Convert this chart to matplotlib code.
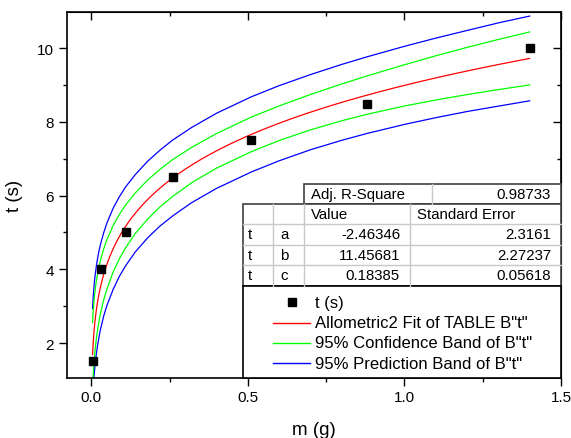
import numpy as np
import matplotlib
matplotlib.use('Agg')
import matplotlib.pyplot as plt
from matplotlib.patches import Rectangle
from matplotlib.lines import Line2D
from matplotlib.ticker import MultipleLocator

plt.rcParams['font.family'] = ['Liberation Sans', 'DejaVu Sans']

# measured points
mass = [0.004, 0.03, 0.11, 0.26, 0.51, 0.88, 1.40]
time_s = [1.5, 4.0, 5.0, 6.5, 7.5, 8.5, 10.0]

# Allometric2 fit y = a + b*x^c
param_names = ['a', 'b', 'c']
param_values = [-2.46346, 11.45681, 0.18385]
param_errors = [2.3161, 2.27237, 0.05618]
adj_r2 = 0.98733

# half widths of the 95% bands around the fit
band_x = [0.004, 0.006, 0.008, 0.01, 0.013, 0.016, 0.02, 0.025, 0.03, 0.04,
          0.05, 0.07, 0.09, 0.11, 0.14, 0.18, 0.22, 0.26, 0.32, 0.40,
          0.51, 0.60, 0.70, 0.80, 0.88, 1.00, 1.10, 1.20, 1.30, 1.40]
conf_hw = [0.87, 0.85, 0.83, 0.82, 0.80, 0.78, 0.76, 0.74, 0.72, 0.69,
           0.67, 0.63, 0.60, 0.58, 0.55, 0.53, 0.51, 0.50, 0.48, 0.47,
           0.47, 0.47, 0.48, 0.50, 0.52, 0.56, 0.60, 0.64, 0.68, 0.72]
pred_hw = [1.25, 1.24, 1.22, 1.22, 1.20, 1.19, 1.18, 1.17, 1.15, 1.13,
           1.12, 1.10, 1.08, 1.07, 1.05, 1.04, 1.03, 1.03, 1.02, 1.02,
           1.02, 1.02, 1.02, 1.03, 1.04, 1.06, 1.08, 1.10, 1.13, 1.15]


def allometric2(x):
    a, b, c = param_values
    return a + b * np.power(x, c)


RED = '#ff0000'
GREEN = '#00ff00'
BLUE = '#0000ff'

W, H = 571, 439
fig = plt.figure(figsize=(W / 100, H / 100), dpi=100)
ax = fig.add_axes([66.7 / W, (H - 379) / H, (561 - 66.7) / W, (379 - 13) / H])

xs = np.geomspace(mass[0], mass[-1], 500)
bx = np.array(band_x)
by = allometric2(bx)
ax.plot(bx, by + np.array(pred_hw), color=BLUE, lw=0.9)
ax.plot(bx, by - np.array(pred_hw), color=BLUE, lw=0.9)
ax.plot(bx, by + np.array(conf_hw), color=GREEN, lw=0.9)
ax.plot(bx, by - np.array(conf_hw), color=GREEN, lw=0.9)
ax.plot(xs, allometric2(xs), color=RED, lw=0.9)
ax.plot(mass, time_s, 's', color='black', ms=6, zorder=4)

ax.set_xlim(-0.0786, 1.5)
ax.set_ylim(1.05, 10.985)
ax.xaxis.set_major_locator(MultipleLocator(0.5))
ax.xaxis.set_minor_locator(MultipleLocator(0.25))
ax.yaxis.set_major_locator(MultipleLocator(2))
ax.yaxis.set_minor_locator(MultipleLocator(1))
ax.xaxis.set_major_formatter(matplotlib.ticker.FormatStrFormatter('%.1f'))

for s in ax.spines.values():
    s.set_linewidth(1.2)
ax.tick_params(which='major', direction='out', length=6, width=1, labelsize=11, pad=3)
ax.tick_params(which='minor', direction='out', length=3, width=1)

# mirrored ticks on top and right, pointing inward
top = ax.secondary_xaxis('top')
top.xaxis.set_major_locator(MultipleLocator(0.5))
top.xaxis.set_minor_locator(MultipleLocator(0.25))
top.tick_params(which='major', direction='in', length=6, width=1, labeltop=False)
top.tick_params(which='minor', direction='in', length=3, width=1)
right = ax.secondary_yaxis('right')
right.yaxis.set_major_locator(MultipleLocator(2))
right.yaxis.set_minor_locator(MultipleLocator(1))
right.tick_params(which='major', direction='in', length=6, width=1, labelright=False)
right.tick_params(which='minor', direction='in', length=3, width=1)

ax.set_xlabel('m (g)', fontsize=13.5, labelpad=12)
ax.set_ylabel('t (s)', fontsize=13.5, labelpad=10)

# results table and legend, drawn in pixel coordinates
ov = fig.add_axes([0, 0, 1, 1], zorder=5)
ov.set_xlim(0, W)
ov.set_ylim(H, 0)
ov.axis('off')

dark = '#404040'
grid = '#c8c8c8'
x0, x1, x2, x3, xr = 243.3, 273.3, 304.0, 410.0, 561.0
y_adj, y_hdr, y_a, y_b, y_c, y_leg, y_bot = 185.0, 205.0, 225.0, 245.7, 266.0, 286.7, 378.5

ov.add_patch(Rectangle((x2, y_adj), xr - x2, y_hdr - y_adj, fc='white', ec=dark, lw=1.2))
ov.plot([432.3, 432.3], [y_adj, y_hdr], color=grid, lw=1)
ov.add_patch(Rectangle((x0, y_hdr), xr - x0, y_leg - y_hdr, fc='white', ec=dark, lw=1.2))
for yy in (y_a, y_b, y_c):
    ov.plot([x0, xr], [yy, yy], color=grid, lw=1)
for xx in (x1, x2, x3):
    ov.plot([xx, xx], [y_hdr, y_leg], color=grid, lw=1)
ov.add_patch(Rectangle((x0, y_leg), xr - x0, y_bot - y_leg, fc='white', ec='black', lw=1.2))

tfs = 10.8
ov.text(311, (y_adj + y_hdr) / 2, 'Adj. R-Square', fontsize=tfs, va='center')
ov.text(551, (y_adj + y_hdr) / 2, f'{adj_r2:.5f}', fontsize=tfs, va='center', ha='right')
ov.text(311, (y_hdr + y_a) / 2, 'Value', fontsize=tfs, va='center')
ov.text(417, (y_hdr + y_a) / 2, 'Standard Error', fontsize=tfs, va='center')
row_edges = [y_a, y_b, y_c, y_leg]
for i, name in enumerate(param_names):
    yc = (row_edges[i] + row_edges[i + 1]) / 2
    ov.text(248, yc, 't', fontsize=tfs, va='center')
    ov.text(280, yc, name, fontsize=tfs, va='center')
    ov.text(400, yc, f'{param_values[i]:.5f}', fontsize=tfs, va='center', ha='right')
    ov.text(551, yc, f'{param_errors[i]:g}', fontsize=tfs, va='center', ha='right')

legend_rows = [
    ('marker', 'black', 't (s)'),
    ('line', RED, 'Allometric2 Fit of TABLE B"t"'),
    ('line', GREEN, '95% Confidence Band of B"t"'),
    ('line', BLUE, '95% Prediction Band of B"t"'),
]
for i, (kind, col, label) in enumerate(legend_rows):
    yc = 303.3 + i * 20.3
    if kind == 'marker':
        ov.plot([291.7], [yc], 's', color=col, ms=6)
    else:
        ov.add_line(Line2D([273, 310], [yc, yc], color=col, lw=1))
    ov.text(315, yc, label, fontsize=12, va='center')

fig.savefig('out.png', dpi=100)
